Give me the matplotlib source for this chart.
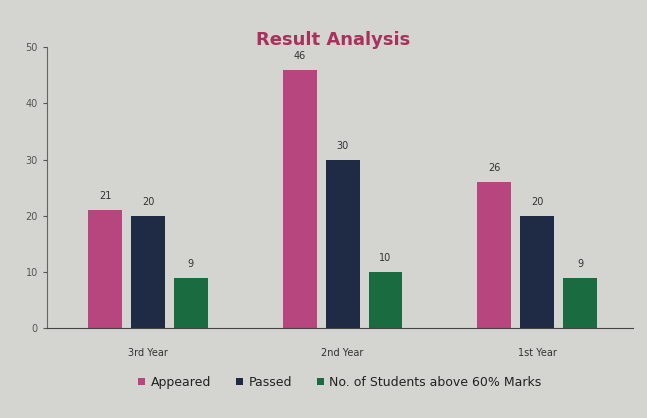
import matplotlib.pyplot as plt
import numpy as np

# Data
years = ["3rd Year", "2nd Year", "1st Year"]
appeared = [21, 46, 26]
passed = [20, 30, 20]
above_60 = [9, 10, 9]

series = [("Appeared", appeared, "#b8467e"),
          ("Passed", passed, "#1f2b45"),
          ("No. of Students above 60% Marks", above_60, "#1b6b40")]

bg = "#d4d4d0"
fig = plt.figure(figsize=(6.47, 4.18), dpi=100, facecolor=bg)
ax = fig.add_axes([0.0726, 0.215, 0.905, 0.672], facecolor=bg)

x = np.arange(len(years))
width = 0.174
step = 0.22
for i, (name, vals, color) in enumerate(series):
    pos = x + (i - 1) * step
    bars = ax.bar(pos, vals, width, color=color, label=name)
    for b, v in zip(bars, vals):
        ax.text(b.get_x() + b.get_width() / 2, v + 1.6, str(v),
                ha="center", va="bottom", fontsize=7, color="#333333")

ax.set_xlim(-0.52, 2.49)
ax.set_ylim(0, 50)
ax.set_yticks([0, 10, 20, 30, 40, 50])
ax.set_xticks(x)
ax.set_xticklabels(years)
ax.tick_params(axis="y", labelsize=7, colors="#555555", length=3)
ax.tick_params(axis="x", labelsize=7, colors="#333333", length=0, pad=14)
for s in ["top", "right"]:
    ax.spines[s].set_visible(False)
ax.spines["left"].set_color("#666666")
ax.spines["bottom"].set_color("#444444")

fig.text(0.515, 0.905, "Result Analysis", ha="center", va="center",
         fontsize=13, color="#a8325e", fontweight="bold")

ax.legend(loc="upper center", bbox_to_anchor=(0.5, -0.13), ncol=3,
          frameon=False, fontsize=9, handlelength=0.6, handleheight=0.6,
          columnspacing=2.0, handletextpad=0.4, labelcolor="#222222")

fig.savefig("out.png", dpi=100, facecolor=bg)
